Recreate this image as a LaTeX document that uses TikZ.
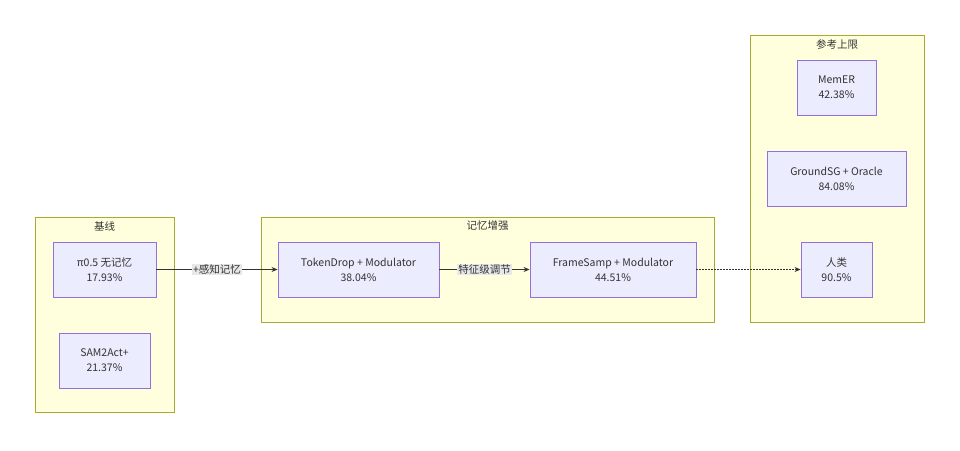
\documentclass[tikz,border=0pt]{standalone}
\usepackage{fontspec}
\setmainfont{Noto Sans CJK SC}
\usetikzlibrary{arrows.meta}
\definecolor{clfill}{HTML}{FFFFDE}
\definecolor{cldraw}{HTML}{AAAA33}
\definecolor{ndfill}{HTML}{ECECFF}
\definecolor{nddraw}{HTML}{9370DB}
\definecolor{txt}{HTML}{333333}
\definecolor{lblbg}{HTML}{E8E8E8}
\tikzset{
  cluster/.style={draw=cldraw, fill=clfill, line width=0.9pt},
  cltitle/.style={text=txt, font=\fontsize{10.5}{12}\selectfont, anchor=center},
  box/.style={draw=nddraw, fill=ndfill, line width=0.9pt, text=txt, align=center,
    font=\fontsize{10.5}{15}\selectfont, inner sep=0pt, minimum height=55pt},
  link/.style={draw=txt, line width=0.9pt, -{Stealth[length=6pt,width=5pt]}},
  elabel/.style={fill=lblbg, text=txt, font=\fontsize{10.5}{12}\selectfont, inner sep=1pt},
}
\begin{document}
\begin{tikzpicture}[x=1pt,y=-1pt]
\useasboundingbox (0,0) rectangle (960,450);
% clusters
\draw[cluster] (35,217) rectangle (174,412);
\node[cltitle] (t1) at (104.5,226) {基线};
\draw[cluster] (261,217) rectangle (714,322);
\node[cltitle] (t2) at (487.5,226) {记忆增强};
\draw[cluster] (750,35) rectangle (924,322);
\node[cltitle] (t3) at (837,44) {参考上限};
% nodes
\node[box, minimum width=103pt] (pi) at (104.5,269.5) {π0.5 无记忆\\17.93\%};
\node[box, minimum width=91pt] (sam) at (104.5,360.5) {SAM2Act+\\21.37\%};
\node[box, minimum width=161pt] (tok) at (358.5,269.5) {TokenDrop + Modulator\\38.04\%};
\node[box, minimum width=166pt] (fra) at (613,269.5) {FrameSamp + Modulator\\44.51\%};
\node[box, minimum width=79pt] (mem) at (836.5,87.5) {MemER\\42.38\%};
\node[box, minimum width=139pt] (gro) at (836.5,178.5) {GroundSG + Oracle\\84.08\%};
\node[box, minimum width=71pt] (hum) at (836.5,269.5) {人类\\90.5\%};
% edges
\draw[link] (pi) -- node[elabel] {+感知记忆} (tok);
\draw[link] (tok) -- node[elabel] {特征级调节} (fra);
\draw[link, dash pattern=on 1.5pt off 1.5pt] (fra) -- (hum);
\end{tikzpicture}
\end{document}
